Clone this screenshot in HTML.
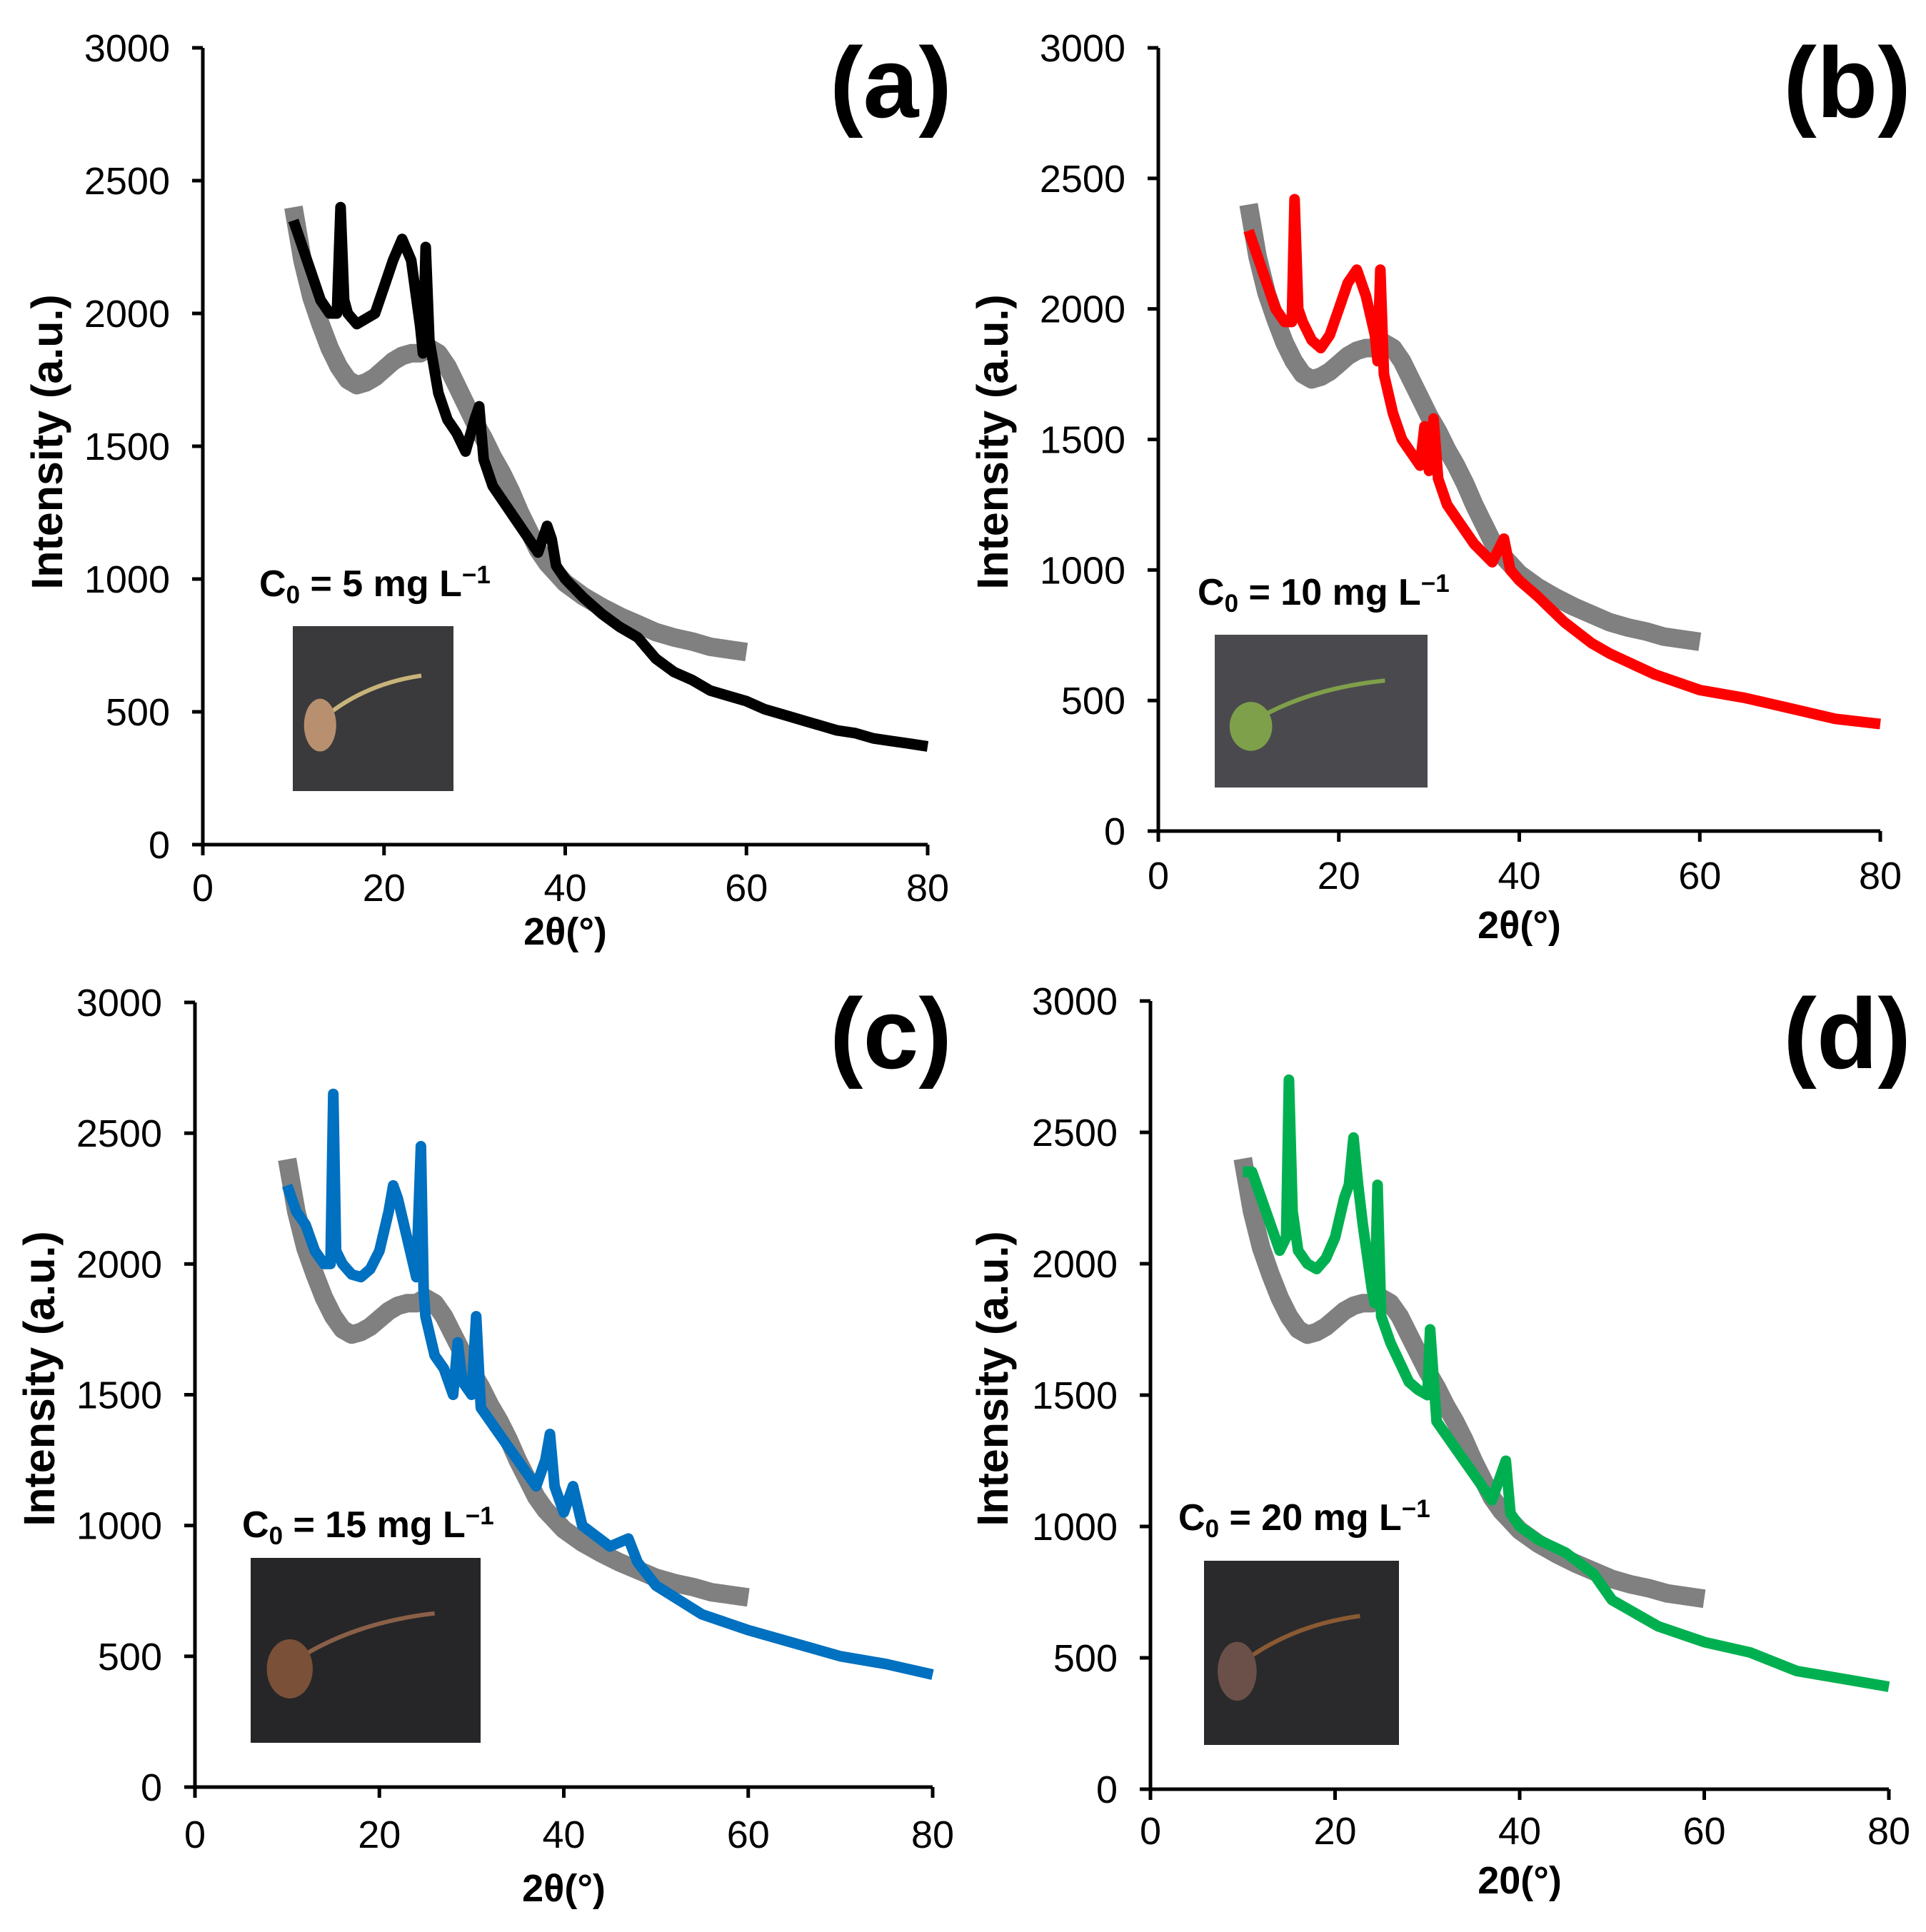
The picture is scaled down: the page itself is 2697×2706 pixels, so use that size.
<!DOCTYPE html>
<html><head><meta charset="utf-8"><style>
html,body{margin:0;padding:0;background:#fff;}
svg{display:block;font-family:"Liberation Sans",sans-serif;}
</style></head><body>
<svg id="fig" width="2697" height="2706" viewBox="0 0 2697 2706" xmlns="http://www.w3.org/2000/svg"></svg>
<script>
const xTicks = [0, 20, 40, 60, 80];
const yTicks = [0, 500, 1000, 1500, 2000, 2500, 3000];
const grayX = [10,11,12,13,14,15,16,17,18,19,20,21,22,23,24,25,26,27,28,29,30,31,32,33,34,35,36,37,38,40,42,44,46,48,50,52,54,56,58,60];
const grayY = [2400,2200,2060,1960,1870,1800,1750,1730,1740,1760,1790,1820,1840,1850,1850,1870,1850,1800,1730,1660,1590,1530,1460,1400,1330,1250,1180,1110,1060,985,935,895,860,830,800,780,765,745,735,725];
const aX = [10,11,12,13,14,14.8,15.2,15.6,16,17,18,19,20,21,22,23,24,24.3,24.6,25,26,27,28,29,30,30.5,31,32,33,34,35,36,37,38,38.5,39,40,42,44,46,48,50,52,54,56,58,60,62,64,66,68,70,72,74,76,78,80];
const aY = [2350,2250,2150,2050,2000,2000,2400,2050,2000,1960,1980,2000,2100,2200,2280,2200,1950,1850,2250,1900,1700,1600,1550,1480,1600,1650,1450,1350,1300,1250,1200,1150,1100,1200,1150,1050,1000,930,870,820,780,700,650,620,580,560,540,510,490,470,450,430,420,400,390,380,370];
const bX = [10,11,12,13,14,14.8,15.1,15.5,16,17,18,19,20,21,22,23,24,24.3,24.6,25,26,27,28,29,29.5,30,30.5,31,32,33,35,37,38.3,39,40,42,45,48,50,55,60,65,70,75,80];
const bY = [2300,2200,2100,2000,1950,1950,2420,2000,1950,1880,1850,1900,2000,2100,2150,2050,1900,1800,2150,1750,1600,1500,1450,1400,1550,1380,1580,1350,1250,1200,1100,1030,1120,1000,960,900,800,720,680,600,540,510,470,430,410];
const cX = [10,11,12,13,14,14.7,15,15.3,16,17,18,19,20,21,21.5,22,23,24,24.5,24.8,25,26,27,28,28.5,29,30,30.5,31,32,33,35,37,38,38.5,39,40,41,42,45,47,48,50,55,60,65,70,75,80];
const cY = [2300,2200,2150,2050,2000,2000,2650,2050,2000,1960,1950,1980,2050,2200,2300,2250,2100,1950,2450,1900,1800,1650,1600,1500,1700,1550,1500,1800,1450,1400,1350,1250,1150,1250,1350,1150,1050,1150,1000,920,950,860,770,660,600,550,500,470,430];
const dX = [10,11,12,13,14,14.7,15,15.4,16,17,18,19,20,21,21.5,22,22.5,23,24,24.3,24.6,25,26,28,29,30,30.3,31,33,35,37,38.5,39,40,42,45,48,50,55,60,65,70,75,80];
const dY = [2350,2350,2250,2150,2050,2100,2700,2200,2050,2000,1980,2020,2100,2250,2300,2480,2300,2150,1900,1850,2300,1800,1700,1550,1520,1500,1750,1400,1300,1200,1100,1250,1050,1000,950,900,820,720,620,560,520,450,420,390];

const NS = "http://www.w3.org/2000/svg";
const svg = document.getElementById('fig');
function mk(tag, attrs, parent){
  const e = document.createElementNS(NS, tag);
  for (const k in attrs) e.setAttribute(k, attrs[k]);
  (parent||svg).appendChild(e);
  return e;
}
const panels = [
  {id:'a', x0:284, x1:1299, y0:1183, y1:67, color:'#000000', xs:aX, ys:aY, lab:'5', labX:363, labY:835, ins:[410,877,225,231], ylX:66, ylY:619, xtY:1262, xtitleY:1323, xtitle:'2θ(°)', tl:'(a)', tlX:1333, tlY:164},
  {id:'b', x0:1622, x1:2633, y0:1164, y1:67, color:'#ff0000', xs:bX, ys:bY, lab:'10', labX:1677, labY:847, ins:[1701,889,298,214], ylX:1390, ylY:619, xtY:1245, xtitleY:1314, xtitle:'2θ(°)', tl:'(b)', tlX:2676, tlY:164},
  {id:'c', x0:273, x1:1306, y0:2503, y1:1404, color:'#0070c0', xs:cX, ys:cY, lab:'15', labX:339, labY:2153, ins:[351,2182,322,259], ylX:55, ylY:1931, xtY:2588, xtitleY:2663, xtitle:'2θ(°)', tl:'(c)', tlX:1333, tlY:1496},
  {id:'d', x0:1611, x1:2645, y0:2506, y1:1402, color:'#00b050', xs:dX, ys:dY, lab:'20', labX:1650, labY:2143, ins:[1686,2186,273,258], ylX:1390, ylY:1931, xtY:2583, xtitleY:2652, xtitle:'20(°)', tl:'(d)', tlX:2676, tlY:1496}
];
const photoColors = {a:['#3a3a3c','#c8b37a','#b89070'], b:['#4a4a4e','#7fa04a','#8a7070'], c:['#262628','#8a6048','#7a5038'], d:['#2a2a2c','#8a5a32','#6a5048']};
panels.forEach(p=>{
  const g = mk('g', {});
  
  
  const sx = v => p.x0 + (v/80)*(p.x1-p.x0);
  const sy = v => p.y0 - (v/3000)*(p.y0-p.y1);
  const pg = mk('g', {}, g);
  
  
  const [ix,iy,iw,ih] = p.ins; const pc = photoColors[p.id];
  mk('rect', {x:ix,y:iy,width:iw,height:ih,fill:pc[0]}, pg);
  mk('path', {d:`M${ix+iw*0.2} ${iy+ih*0.55} Q${ix+iw*0.45} ${iy+ih*0.35} ${ix+iw*0.8} ${iy+ih*0.3}`, stroke:pc[1], 'stroke-width':6, fill:'none'}, pg);
  mk('ellipse', {cx:ix+iw*0.17, cy:iy+ih*0.6, rx:iw*0.1, ry:ih*0.16, fill:p.id==='b'?pc[1]:pc[2]}, pg);
  const t = mk('text', {x:p.labX, y:p.labY, 'font-size':52, 'font-weight':'bold', fill:'#000'}, g);
  
  
  t.innerHTML = `C<tspan font-size="35" dy="10">0</tspan><tspan dy="-10"> = ${p.lab} mg L</tspan><tspan font-size="35" dy="-18">−1</tspan>`;
  let d = grayX.map((x,i)=>(i?'L':'M')+sx(x).toFixed(1)+' '+sy(grayY[i]).toFixed(1)).join(' ');
  const gl = mk('path', {d:d, stroke:'#808080', 'stroke-width':26, fill:'none', 'stroke-linejoin':'round'}, g);
  
  
  d = p.xs.map((x,i)=>(i?'L':'M')+sx(x).toFixed(1)+' '+sy(p.ys[i]).toFixed(1)).join(' ');
  const cl = mk('path', {d:d, stroke:p.color, 'stroke-width':15, fill:'none', 'stroke-linejoin':'round'}, g);
  
  
  const ax = mk('path', {d:`M${p.x0} ${p.y1} L${p.x0} ${p.y0} L${p.x1} ${p.y0}`, stroke:'#000', 'stroke-width':5, fill:'none'}, g);
  
  
  yTicks.forEach(v=>{
    mk('line', {x1:p.x0-15, x2:p.x0, y1:sy(v), y2:sy(v), stroke:'#000', 'stroke-width':5}, g);
    const tt = mk('text', {x:p.x0-46, y:sy(v)+19, 'font-size':54, 'text-anchor':'end', fill:'#000'}, g);
    
    
    tt.textContent = v;
  });
  xTicks.forEach(v=>{
    mk('line', {x1:sx(v), x2:sx(v), y1:p.y0, y2:p.y0+15, stroke:'#000', 'stroke-width':5}, g);
    const tt = mk('text', {x:sx(v), y:p.xtY, 'font-size':54, 'text-anchor':'middle', fill:'#000'}, g);
    
    
    tt.textContent = v;
  });
  const xt = mk('text', {x:(p.x0+p.x1)/2, y:p.xtitleY, 'font-size':54, 'font-weight':'bold', 'text-anchor':'middle'}, g);
  
  
  xt.textContent = p.xtitle;
  const yt = mk('text', {x:p.ylX, y:p.ylY, 'font-size':61, 'font-weight':'bold', 'text-anchor':'middle', 'dominant-baseline':'central', transform:`rotate(-90 ${p.ylX} ${p.ylY})`}, g);
  
  
  yt.textContent = 'Intensity (a.u.)';
  const tl = mk('text', {x:p.tlX, y:p.tlY, 'font-size':140, 'font-weight':'bold', 'text-anchor':'end'}, g);
  
  
  tl.textContent = p.tl;
});
</script>
</body></html>
